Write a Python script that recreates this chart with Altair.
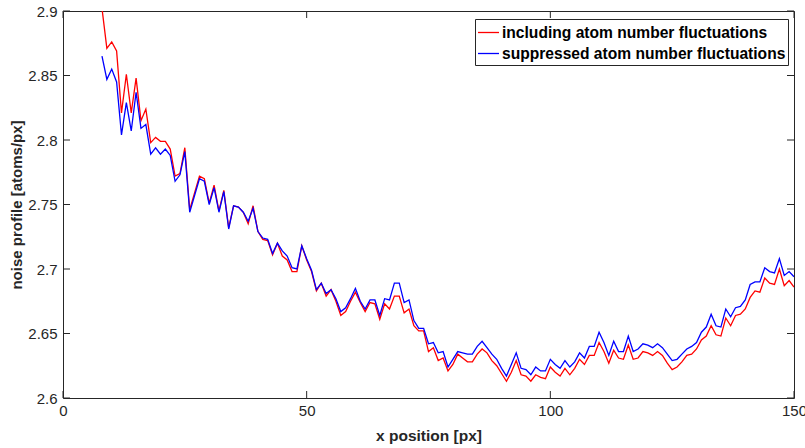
import altair as alt
import pandas as pd

# x positions [px]
x_pos = list(range(8, 151))

red_label = "including atom number fluctuations"
blue_label = "suppressed atom number fluctuations"

red_vals = [
    2.902, 2.871, 2.876, 2.869, 2.821, 2.851, 2.821, 2.848, 2.815, 2.824,  # 8-17
    2.798, 2.802, 2.799, 2.799, 2.793, 2.772, 2.774, 2.794, 2.746, 2.759,  # 18-27
    2.772, 2.770, 2.751, 2.765, 2.745, 2.761, 2.732, 2.749, 2.748, 2.744,  # 28-37
    2.735, 2.749, 2.729, 2.723, 2.722, 2.711, 2.720, 2.710, 2.707, 2.698,  # 38-47
    2.698, 2.718, 2.707, 2.698, 2.683, 2.689, 2.679, 2.684, 2.675, 2.664,  # 48-57
    2.667, 2.675, 2.682, 2.674, 2.667, 2.674, 2.673, 2.661, 2.673, 2.669,  # 58-67
    2.679, 2.679, 2.666, 2.669, 2.656, 2.652, 2.652, 2.636, 2.639, 2.629,  # 68-77
    2.631, 2.621, 2.626, 2.634, 2.631, 2.628, 2.628, 2.634, 2.638, 2.635,  # 78-87
    2.629, 2.625, 2.619, 2.613, 2.620, 2.629, 2.618, 2.617, 2.613, 2.618,  # 88-97
    2.616, 2.615, 2.624, 2.620, 2.617, 2.623, 2.618, 2.623, 2.630, 2.626,  # 98-107
    2.633, 2.633, 2.643, 2.636, 2.627, 2.637, 2.631, 2.630, 2.641, 2.630,  # 108-117
    2.631, 2.636, 2.635, 2.633, 2.636, 2.633, 2.627, 2.622, 2.624, 2.628,  # 118-127
    2.633, 2.634, 2.638, 2.645, 2.648, 2.656, 2.649, 2.648, 2.662, 2.656,  # 128-137
    2.664, 2.665, 2.669, 2.678, 2.683, 2.682, 2.693, 2.689, 2.688, 2.700,  # 138-147
    2.687, 2.691, 2.686,                                                   # 148-150
]

blue_vals = [
    2.865, 2.847, 2.855, 2.845, 2.804, 2.829, 2.807, 2.837, 2.809, 2.812,  # 8-17
    2.789, 2.794, 2.789, 2.793, 2.788, 2.768, 2.773, 2.791, 2.744, 2.757,  # 18-27
    2.770, 2.768, 2.750, 2.763, 2.744, 2.760, 2.731, 2.749, 2.748, 2.744,  # 28-37
    2.737, 2.747, 2.729, 2.724, 2.723, 2.712, 2.720, 2.714, 2.710, 2.701,  # 38-47
    2.700, 2.718, 2.708, 2.699, 2.684, 2.689, 2.681, 2.684, 2.677, 2.667,  # 48-57
    2.670, 2.677, 2.685, 2.675, 2.669, 2.676, 2.676, 2.664, 2.677, 2.676,  # 58-67
    2.689, 2.689, 2.674, 2.676, 2.660, 2.654, 2.654, 2.642, 2.643, 2.635,  # 68-77
    2.636, 2.624, 2.630, 2.636, 2.635, 2.634, 2.634, 2.640, 2.644, 2.639,  # 78-87
    2.634, 2.630, 2.623, 2.617, 2.626, 2.635, 2.623, 2.622, 2.618, 2.624,  # 88-97
    2.621, 2.621, 2.630, 2.626, 2.623, 2.629, 2.624, 2.628, 2.635, 2.631,  # 98-107
    2.640, 2.640, 2.651, 2.643, 2.633, 2.644, 2.636, 2.636, 2.648, 2.636,  # 108-117
    2.638, 2.642, 2.641, 2.639, 2.642, 2.639, 2.634, 2.629, 2.630, 2.634,  # 118-127
    2.638, 2.640, 2.643, 2.651, 2.655, 2.665, 2.656, 2.655, 2.669, 2.663,  # 128-137
    2.670, 2.671, 2.676, 2.688, 2.690, 2.690, 2.701, 2.698, 2.697, 2.708,  # 138-147
    2.695, 2.698, 2.694,                                                   # 148-150
]

x_tick_values = [0, 50, 100, 150]
y_tick_values = [2.6, 2.65, 2.7, 2.75, 2.8, 2.85, 2.9]

df = pd.DataFrame({
    "x": x_pos + x_pos,
    "y": red_vals + blue_vals,
    "series": [red_label] * len(x_pos) + [blue_label] * len(x_pos),
    "order": list(range(len(x_pos))) * 2,
})

W, H = 731, 387
FONT = "Liberation Sans"
AX = "#262626"
TICK = 7

xscale = alt.Scale(domain=[0, 150], nice=False, zero=False)
yscale = alt.Scale(domain=[2.6, 2.9], nice=False, zero=False)

x_axis = alt.Axis(values=x_tick_values, title="x position [px]", format="d",
                  ticks=False, domain=False, grid=False, labelFlush=False,
                  labelFont=FONT, labelFontSize=15, labelColor=AX, labelPadding=5,
                  titleFont=FONT, titleFontSize=15.5, titleFontWeight="bold",
                  titleColor=AX, titlePadding=10)
y_axis = alt.Axis(values=y_tick_values, title="noise profile [atoms/px]", format=".2~f",
                  ticks=False, domain=False, grid=False, labelFlush=False,
                  labelFont=FONT, labelFontSize=15, labelColor=AX, labelPadding=6,
                  titleFont=FONT, titleFontSize=15, titleFontWeight="bold",
                  titleColor=AX, titlePadding=3)

lines = alt.Chart(df).mark_line(clip=True, strokeWidth=1.3).encode(
    x=alt.X("x:Q", scale=xscale, axis=x_axis),
    y=alt.Y("y:Q", scale=yscale, axis=y_axis),
    color=alt.Color("series:N",
                    scale=alt.Scale(domain=[red_label, blue_label], range=["#ff0000", "#0000ff"]),
                    legend=alt.Legend(title=None, orient="none", legendX=412, legendY=8,
                                      padding=2, strokeColor=AX, fillColor="white",
                                      symbolType="stroke", symbolSize=441, symbolStrokeWidth=1.3,
                                      labelFont=FONT, labelFontWeight="bold", labelFontSize=15.6,
                                      labelColor="black", rowPadding=0, labelOffset=2,
                                      labelLimit=400)),
    order="order:Q",
)

xt = pd.DataFrame({"x": x_tick_values})
yt = pd.DataFrame({"y": y_tick_values})

bottom_ticks = alt.Chart(xt).mark_rule(color=AX, strokeWidth=1).encode(
    x=alt.X("x:Q", scale=xscale, axis=x_axis), y=alt.value(H), y2=alt.value(H - TICK))
top_ticks = alt.Chart(xt).mark_rule(color=AX, strokeWidth=1).encode(
    x=alt.X("x:Q", scale=xscale, axis=x_axis), y=alt.value(0), y2=alt.value(TICK))
left_ticks = alt.Chart(yt).mark_rule(color=AX, strokeWidth=1).encode(
    y=alt.Y("y:Q", scale=yscale, axis=y_axis), x=alt.value(0), x2=alt.value(TICK))
right_ticks = alt.Chart(yt).mark_rule(color=AX, strokeWidth=1).encode(
    y=alt.Y("y:Q", scale=yscale, axis=y_axis), x=alt.value(W), x2=alt.value(W - TICK))

chart = alt.layer(lines, bottom_ticks, top_ticks, left_ticks, right_ticks).properties(
    width=W, height=H,
    padding={"left": 63, "top": 11, "right": 11, "bottom": 50},
    autosize=alt.AutoSizeParams(type="none"),
    background="white",
).configure_view(stroke=AX, strokeWidth=1)

chart.save("out.html", embed_options={"renderer": "svg", "actions": False})
